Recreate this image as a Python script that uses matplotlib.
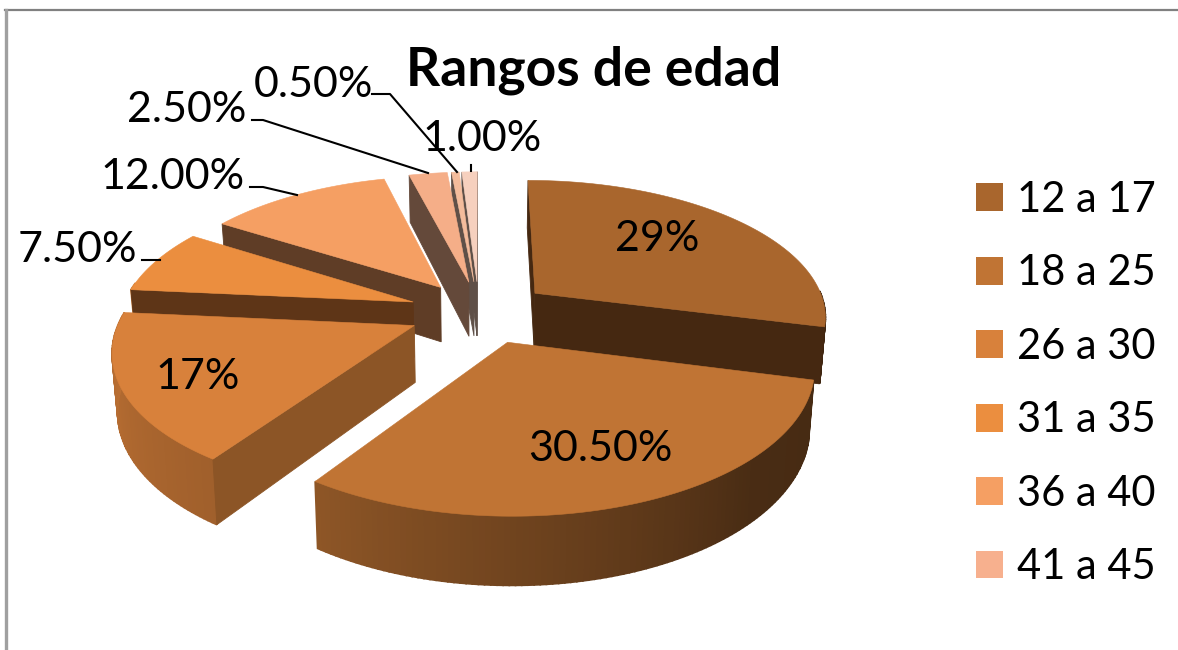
import numpy as np
import matplotlib
matplotlib.use('Agg')
import matplotlib.pyplot as plt
from matplotlib.patches import Patch

title = 'Rangos de edad'
values = [29.0, 30.5, 17.0, 7.5, 12.0, 2.5, 0.5, 1.0]
value_labels = ['29%', '30.50%', '17%', '7.50%', '12.00%', '2.50%', '0.50%', '1.00%']
legend_labels = ['12 a 17', '18 a 25', '26 a 30', '31 a 35', '36 a 40', '41 a 45']

top_colors = ['#A9662D', '#C07434', '#D8813B', '#EB8E3F', '#F59F63', '#F5AE88', '#F4BC9C', '#F6D0BE']
face_colors = ['#452811', '#452811', '#8C5526', '#5E3517', '#5F3D26', '#64493A', '#5F5048', '#5F5048']
legend_colors = top_colors[:6]
legend_colors[5] = '#F7B08E'

plt.rcParams['font.family'] = ['Lato', 'DejaVu Sans']

# pie projection, fitted by eye
cx, cy = 478, 312
rx, ry = 292, 136
persp = 0.157
explode = 0.23
height = 56
lean = 0.985
# small sideways offsets per slice, the original pie is not quite regular
nudge = [5, 5, -2, -2, 1, 2, 1, 1]


def project(x, y):
    s = 1 / (1 - persp * y)
    return cx + rx * x * s, cy + ry * y * s, s


def point(ang, r, mid, shift):
    # ang and mid are degrees clockwise from the back of the pie
    a = np.radians(ang)
    m = np.radians(mid)
    x = explode * np.sin(m) + r * np.sin(a)
    y = -explode * np.cos(m) - r * np.cos(a)
    px, py, s = project(x, y)
    return px + shift, py, s


def low(p):
    return cx + (p[0] - cx) * lean, p[1] + height * p[2]


def wall_shade(ang):
    return np.interp(ang, [90, 135, 214, 275], [0.36, 0.38, 0.74, 0.88])


def scaled(col, f):
    rgb = np.array(matplotlib.colors.to_rgb(col))
    return tuple(rgb * f)


def cross(a, b, c):
    return (b[0] - a[0]) * (c[1] - b[1]) - (b[1] - a[1]) * (c[0] - b[0])


def draw_slice(ax, i, a0, a1):
    mid = (a0 + a1) / 2
    col = top_colors[i]
    apex = point(0, 0, mid, nudge[i])

    # outer wall, thin strips so the light changes along it
    angs = np.arange(a0, a1 + 1, 1.0)
    angs[-1] = a1
    for u, v in zip(angs[:-1], angs[1:]):
        if v < 90 or u > 278:
            continue
        p, q = point(u, 1, mid, nudge[i]), point(v, 1, mid, nudge[i])
        c = scaled(col, wall_shade((u + v) / 2))
        ax.fill([p[0], q[0], low(q)[0], low(p)[0]], [p[1], q[1], low(q)[1], low(p)[1]],
                color=c, lw=1.2)

    # flat cut faces, only the ones turned to the viewer
    for ang, sign in ((a0, -1), (a1, 1)):
        rim = point(ang, 1, mid, nudge[i])
        c = cross(apex, rim, low(rim))
        if c * sign > 0:
            ax.fill([apex[0], rim[0], low(rim)[0], low(apex)[0]],
                    [apex[1], rim[1], low(rim)[1], low(apex)[1]],
                    color=face_colors[i], lw=0.6)

    tx, ty = [apex[0]], [apex[1]]
    for ang in np.linspace(a0, a1, max(int(a1 - a0), 4)):
        p = point(ang, 1, mid, nudge[i])
        tx.append(p[0])
        ty.append(p[1])
    ax.fill(tx, ty, color=col, lw=0.4)


fig = plt.figure(figsize=(11.78, 6.5), dpi=100)
ax = fig.add_axes([0, 0, 1, 1])
ax.set_xlim(0, 1178)
ax.set_ylim(650, 0)
ax.axis('off')

# frame of the pasted picture
ax.plot([5, 1178], [10, 10], color='#808080', lw=1.6)
ax.plot([5.5, 5.5], [10, 650], color='#A0A0A0', lw=2.4)

edges = np.cumsum([0] + values) / sum(values) * 360
for i in [7, 6, 5, 4, 3, 2, 0, 1]:
    draw_slice(ax, i, edges[i], edges[i + 1])

# leader lines
leaders = [([372, 390, 457], [94, 94, 172]),
           ([252, 263, 428], [120, 120, 173]),
           ([250, 263, 297], [187, 187, 195]),
           ([142, 160], [260, 260]),
           ([471, 471], [165, 171])]
for lx, ly in leaders:
    ax.plot(lx, ly, color='black', lw=1.5)

label_pos = [(657, 239), (600, 449), (198, 377), (77, 250),
             (173, 177), (187, 110), (313, 85), (482, 139)]
for lab, (x, y) in zip(value_labels, label_pos):
    ax.text(x, y, lab, fontsize=31, ha='center', va='center', color='black')

ax.text(594, 70, title, fontsize=38.5, fontweight='bold', ha='center', va='center', color='black')

handles = [Patch(facecolor=c, edgecolor='none') for c in legend_colors]
ax.legend(handles, legend_labels, loc='upper left', bbox_to_anchor=(976, 181),
          bbox_transform=ax.transData, frameon=False, fontsize=30,
          handlelength=0.65, handleheight=0.65, handletextpad=0.33,
          labelspacing=0.85, borderpad=0, borderaxespad=0)

fig.savefig('out.png', dpi=100)
